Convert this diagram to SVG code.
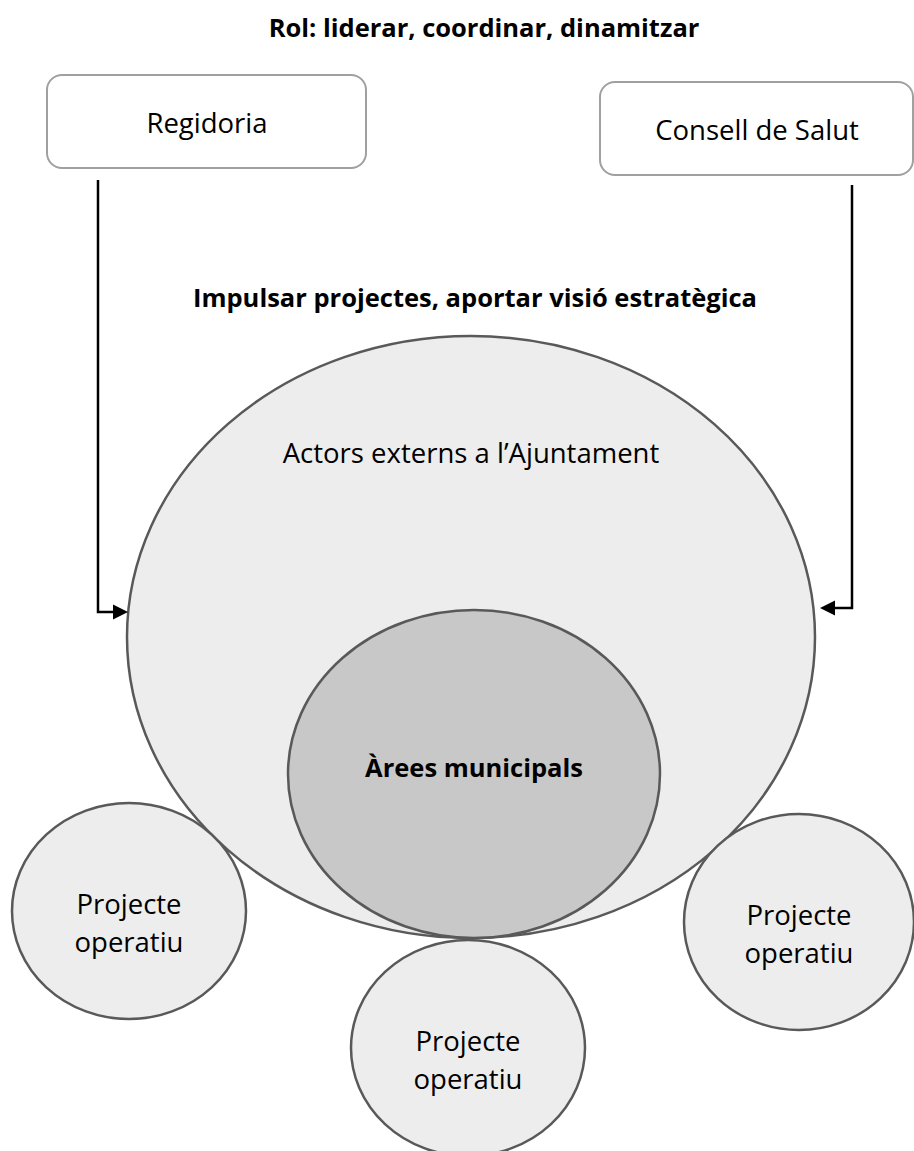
<svg xmlns="http://www.w3.org/2000/svg" width="914" height="1151" viewBox="0 0 914 1151">
<style>
text{font-family:"Open Sans","Noto Sans","Liberation Sans",sans-serif;fill:#000;text-anchor:middle}
.b{font-weight:bold;font-size:25.5px}
.t{font-size:27.5px}
.box{fill:#fff;stroke:#a0a0a0;stroke-width:2}
.ell{fill:#ededed;stroke:#595959;stroke-width:2.5}
.inner{fill:#c8c8c8;stroke:#595959;stroke-width:2.5}
.conn{fill:none;stroke:#000;stroke-width:2.5}
</style>
<defs>
<marker id="ah" markerWidth="16" markerHeight="16" refX="0" refY="8" orient="auto" markerUnits="userSpaceOnUse">
<path d="M0,0.5 L15,8 L0,15.5 Z" fill="#000"/>
</marker>
</defs>
<text class="b" x="484" y="37">Rol: liderar, coordinar, dinamitzar</text>
<text class="b" x="475" y="307">Impulsar projectes, aportar visió estratègica</text>
<g id="regidoria"><rect class="box" x="47" y="75" width="319" height="93" rx="15"/><text class="t" x="207" y="133">Regidoria</text></g>
<g id="consell"><rect class="box" x="600" y="82" width="313" height="93" rx="15"/><text class="t" x="757" y="140">Consell de Salut</text></g>
<g id="actors"><ellipse class="ell" cx="471" cy="637" rx="344" ry="301"/><text class="t" x="471" y="463">Actors externs a l’Ajuntament</text></g>
<g id="arees"><ellipse class="inner" cx="474" cy="774" rx="186" ry="164"/><text class="b" x="474" y="777">Àrees municipals</text></g>
<g id="proj1"><ellipse class="ell" cx="129" cy="911" rx="117" ry="108"/><text class="t" x="129" y="914">Projecte</text><text class="t" x="129" y="952">operatiu</text></g>
<g id="proj2"><ellipse class="ell" cx="468" cy="1048" rx="117" ry="108"/><text class="t" x="468" y="1051">Projecte</text><text class="t" x="468" y="1089">operatiu</text></g>
<g id="proj3"><ellipse class="ell" cx="799" cy="922" rx="115" ry="108"/><text class="t" x="799" y="925">Projecte</text><text class="t" x="799" y="963">operatiu</text></g>
<g id="connectors">
<path class="conn" d="M98,180 V612 H113" marker-end="url(#ah)"/>
<path class="conn" d="M852,185 V608 H835" marker-end="url(#ah)"/>
</g>
</svg>
